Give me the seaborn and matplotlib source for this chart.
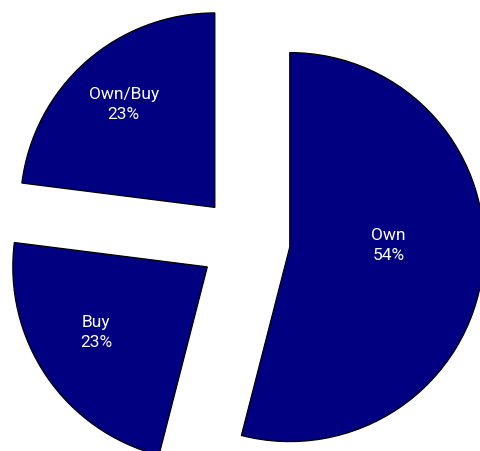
import numpy as np
import matplotlib
matplotlib.use("Agg")
import matplotlib.pyplot as plt
import seaborn as sns

# Data
categories = ["Own", "Buy", "Own/Buy"]
shares = [54, 23, 23]

# Style
sns.set_theme(style="white")
plt.rcParams["font.family"] = ["Roboto", "DejaVu Sans"]

FILL = "#000080"
EXPLODE = 0.233
label_dist = [0.509, 0.661, 0.711]
label_off = [8.7, -3.9, -0.2]

fig = plt.figure(figsize=(4.81, 4.52), dpi=100)
ax = fig.add_axes([0, 0, 1, 1])

wedges, _ = ax.pie(
    shares,
    colors=[FILL] * len(shares),
    explode=[EXPLODE] * len(shares),
    startangle=90,
    counterclock=False,
    radius=1.0,
    wedgeprops=dict(edgecolor="black", linewidth=0.9),
)

total = sum(shares)
for w, cat, val, d, off in zip(wedges, categories, shares, label_dist, label_off):
    mid = np.deg2rad((w.theta1 + w.theta2) / 2 + off)
    cx, cy = w.center
    ax.text(cx + d * np.cos(mid), cy + d * np.sin(mid),
            f"{cat}\n{val / total * 100:.0f}%",
            ha="center", va="center", color="white", fontsize=12.5,
            linespacing=1.45)

ax.set_aspect("equal")
ax.set_xlim(-1.2586, 1.2144)
ax.set_ylim(-1.0776, 1.2463)
ax.axis("off")

fig.savefig("out.png", dpi=100, facecolor="white")
